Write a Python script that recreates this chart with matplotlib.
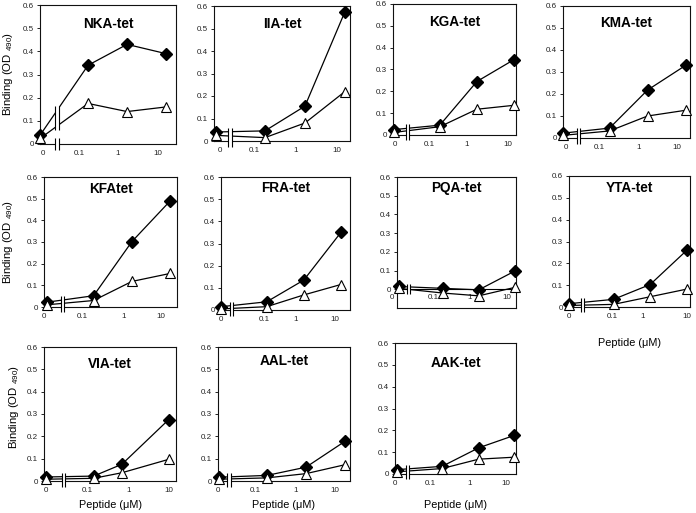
"""
Binding (OD490) vs peptide concentration for eleven tetramers, 4-3-4 grid of panels
"""

import numpy as np
import matplotlib
matplotlib.use("Agg")
import matplotlib.pyplot as plt

plt.rcParams['font.family'] = ['Liberation Sans', 'DejaVu Sans']
plt.rcParams['mathtext.default'] = 'regular'

# ---------------------------------------------------------------------------
# data
# ---------------------------------------------------------------------------
PANELS = ["NKA-tet", "IIA-tet", "KGA-tet", "KMA-tet",
          "KFAtet", "FRA-tet", "PQA-tet", "YTA-tet",
          "VIA-tet", "AAL-tet", "AAK-tet"]

# peptide concentration (uM), first point is the no-peptide control
CONC = [[0, 0.16, 1.6, 16], [0, 0.16, 1.6, 16], [0, 0.16, 1.6, 16], [0, 0.16, 1.6, 16],
        [0, 0.16, 1.6, 16], [0, 0.16, 1.6, 16], [0, 0.16, 1.6, 16], [0, 0.16, 1.6, 16],
        [0, 0.14, 0.7, 10], [0, 0.16, 1.6, 16], [0, 0.16, 1.6, 15]]

# filled diamonds
FILLED = [[0.04, 0.34, 0.43, 0.39],
          [0.04, 0.045, 0.155, 0.575],
          [0.025, 0.045, 0.245, 0.345],
          [0.022, 0.045, 0.218, 0.33],
          [0.022, 0.052, 0.302, 0.49],
          [0.015, 0.037, 0.135, 0.35],
          [0.015, 0.005, -0.003, 0.097],
          [0.015, 0.035, 0.103, 0.26],
          [0.018, 0.022, 0.075, 0.275],
          [0.017, 0.025, 0.062, 0.178],
          [0.02, 0.035, 0.12, 0.177]]

# open triangles
OPEN = [[0.025, 0.175, 0.14, 0.16],
        [0.025, 0.015, 0.08, 0.22],
        [0.012, 0.038, 0.118, 0.136],
        [0.012, 0.032, 0.1, 0.126],
        [0.01, 0.03, 0.118, 0.155],
        [0.005, 0.015, 0.068, 0.115],
        [0.005, -0.02, -0.035, 0.01],
        [0.007, 0.012, 0.047, 0.082],
        [0.008, 0.012, 0.037, 0.097],
        [0.008, 0.014, 0.033, 0.073],
        [0.01, 0.025, 0.068, 0.077]]

XTICK_LABELS = ["0", "0.1", "1", "10"]
YTICKS = [0, 0.1, 0.2, 0.3, 0.4, 0.5, 0.6]
YTICK_LABELS = ["0", "0.1", "0.2", "0.3", "0.4", "0.5", "0.6"]

# ---------------------------------------------------------------------------
# layout (pixels of a 696x513 canvas): left, right, top(=0.6), bottom
# ---------------------------------------------------------------------------
W, H = 696, 513
BOXES = [(40, 176, 5, 144), (214, 350, 6, 141), (393, 516, 4, 135), (563, 690, 6, 138),
         (44, 177, 177, 307), (221, 350, 177, 310), (397, 516, 177, 308), (569, 690, 176, 307),
         (44, 176, 347, 481), (218, 350, 347, 481), (395, 516, 343, 474)]
XLIMS = [(-2.03, 1.46), (-2.07, 1.33), (-2.06, 1.26), (-2.02, 1.32),
         (-2.02, 1.38), (-2.03, 1.45), (-2.07, 1.24), (-1.98, 1.29),
         (-2.08, 1.18), (-2.05, 1.33), (-2.04, 1.22)]
XTICK_POS = [[-1.95, -1.03, -0.03, 1.0], [-1.92, -1.07, -0.02, 1.0],
             [-2.01, -1.08, -0.06, 1.05], [-1.94, -1.07, -0.04, 0.97],
             [-2.09, -1.10, -0.02, 0.97], [-2.03, -0.86, -0.01, 1.03],
             [-2.21, -1.07, -0.04, 0.98], [-2.01, -0.82, -0.01, 1.2],
             [-2.02, -1.0, 0.0, 1.0], [-2.05, -1.09, -0.05, 0.95],
             [-2.08, -1.13, -0.04, 0.94]]
BREAK_X = [-1.59, -1.67, -1.66, -1.61, -1.61, -1.74, -1.75, -1.63, -1.6, -1.77, -1.73]
TITLE_Y = [0.865, 0.87, 0.86, 0.87, 0.905, 0.915, 0.915, 0.905, 0.875, 0.895, 0.85]
ZERO_POS = -2.02          # where "0 uM" sits on the log axis
YLABEL_PANELS = {0: (-0.235, 0.5), 4: (-0.27, 0.5), 8: (-0.227, 0.55)}
XLABEL_PANELS = {7: -0.275, 8: -0.18, 9: -0.18, 10: -0.237}


def to_pos(conc):
    c = np.asarray(conc, dtype=float)
    out = np.full(c.shape, ZERO_POS)
    nz = c > 0
    out[nz] = np.log10(c[nz])
    return out


def draw_break(ax, xb, x, ys):
    """Two little vertical bars with a white gap, on the axis and on the lines"""
    w = 0.085
    vals = [np.interp(xb, x[:2], y[:2]) for y in ys]
    spans = []
    lo, hi = min(vals) - 0.018, max(vals) + 0.018
    if lo > 0.03:
        spans.append((-0.025, 0.025))
        spans.append((lo, hi))
    else:
        spans.append((-0.025, max(hi, 0.025)))
    for y0, y1 in spans:
        ax.fill_between([xb - w / 2, xb + w / 2], y0, y1, color='white',
                        zorder=5, clip_on=False, lw=0)
        ax.vlines([xb - w / 2, xb + w / 2], y0, y1, color='black', lw=0.8,
                  zorder=6, clip_on=False)


fig = plt.figure(figsize=(W / 100, H / 100), dpi=100)

for i, name in enumerate(PANELS):
    l, r, t, b = BOXES[i]
    ax = fig.add_axes([l / W, 1 - b / H, (r - l) / W, (b - t) / H])
    x = to_pos(CONC[i])
    neg = (name == "PQA-tet")

    ax.plot(x, FILLED[i], color='black', lw=0.9, marker='D', ms=5.8,
            mfc='black', mec='black', zorder=3, clip_on=False)
    ax.plot(x, OPEN[i], color='black', lw=0.9, marker='^', ms=7,
            mfc='white', mec='black', mew=0.8, zorder=4, clip_on=False)

    ax.set_xlim(*XLIMS[i])
    ax.set_ylim(-0.1 if neg else 0, 0.6)
    ax.set_yticks(YTICKS)
    ax.set_yticklabels(YTICK_LABELS)
    ax.tick_params(axis='y', length=2.5, width=0.6, pad=2, labelsize=5.8,
                   labelcolor='#222222')

    if neg:
        # axis crosses at 0 inside the box, labels just under it
        ax.axhline(0, color='black', lw=0.8, zorder=2)
        ax.set_xticks([])
        for pos, lab in zip(XTICK_POS[i], XTICK_LABELS):
            ax.text(pos, -0.045, lab, ha='center', va='center', fontsize=5.8,
                    color='#222222', clip_on=False)
    else:
        ax.set_xticks(XTICK_POS[i])
        ax.set_xticklabels(XTICK_LABELS)
        ax.tick_params(axis='x', length=0, pad=4, labelsize=5.8,
                       labelcolor='#222222')

    for sp in ax.spines.values():
        sp.set_linewidth(0.8)
        sp.set_color('#111111')

    draw_break(ax, BREAK_X[i], x, [FILLED[i], OPEN[i]])

    ax.text(0.5, TITLE_Y[i], name, transform=ax.transAxes, ha='center',
            va='center', fontsize=9.8, fontweight='bold')

    if i in YLABEL_PANELS:
        lx, ly = YLABEL_PANELS[i]
        ax.text(lx, ly, 'Binding (OD $_{490}$)', transform=ax.transAxes,
                rotation=90, ha='center', va='center', fontsize=8.2)
    if i in XLABEL_PANELS:
        ax.text(0.5, XLABEL_PANELS[i], 'Peptide (μM)', transform=ax.transAxes,
                ha='center', va='center', fontsize=7.8)

fig.savefig("out.png", dpi=100)
